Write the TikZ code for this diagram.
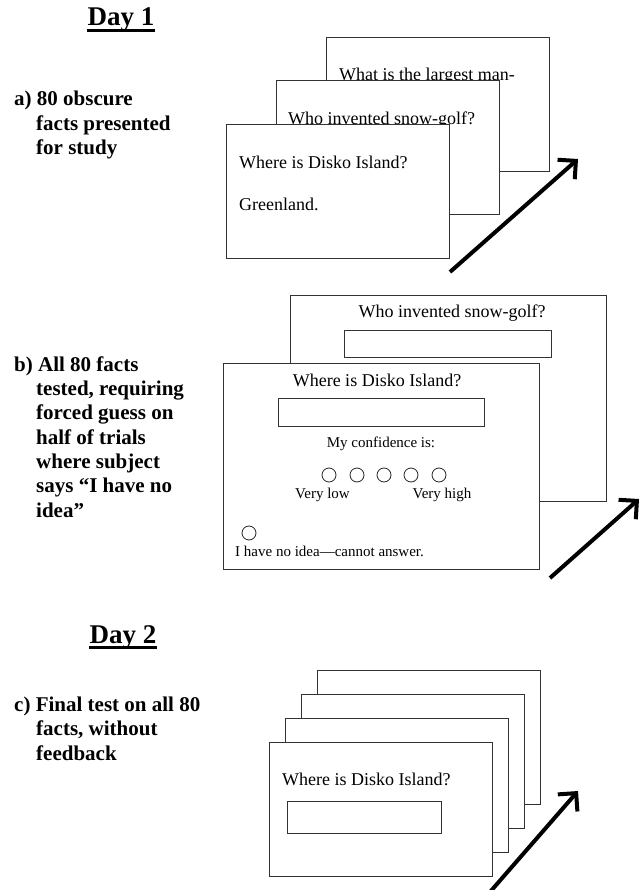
\documentclass[tikz,border=0pt]{standalone}
\usepackage{fontspec}
\setmainfont{Liberation Serif}
\usetikzlibrary{arrows.meta}
\begin{document}
\begin{tikzpicture}[x=1pt,y=-1pt,
  card/.style={draw=black!80, line width=0.9pt, fill=white, minimum width=223pt, minimum height=134pt, anchor=north west, inner sep=0pt, outer sep=0pt},
  bigcard/.style={card, minimum width=316pt, minimum height=206pt},
  lbl/.style={font=\bfseries\fontsize{21}{24}\selectfont, anchor=base west, inner sep=0pt},
  dayhead/.style={font=\bfseries\fontsize{27}{30}\selectfont, anchor=base, inner sep=0pt},
  qtext/.style={font=\fontsize{18}{21}\selectfont, inner sep=0pt},
  smalltext/.style={font=\fontsize{15}{18}\selectfont, inner sep=0pt},
  ansbox/.style={draw=black!80, line width=0.9pt, inner sep=0pt, outer sep=0pt, anchor=north west},
  radio/.style={circle, draw=black!85, line width=0.8pt, minimum size=14pt, inner sep=0pt},
  bigarrow/.style={line width=4pt, -{Straight Barb[length=13pt,width=26pt]}}
]
\useasboundingbox (0,0) rectangle (640,890);

% ---------- Day 1 ----------
\node[dayhead] (d1) at (121,26) {Day 1};
\draw[line width=2.3pt] ([yshift=-4.5pt]d1.base west) -- ([yshift=-4.5pt]d1.base east);

% label a
\node[lbl] (la1) at (14,106) {a) 80 obscure};
\node[lbl] (la2) at (36,130.5) {facts presented};
\node[lbl] (la3) at (36,155) {for study};

% cards a
\node[card] (a3) at (326,37) {};
\node[qtext, anchor=base west] (a3t) at (339,81) {What is the largest man-};
\node[card] (a2) at (276,80) {};
\node[qtext, anchor=base west] (a2t) at (288,124.5) {Who invented snow-golf?};
\node[card] (a1) at (226,124) {};
\node[qtext, anchor=base west] (a1t) at (239,169) {Where is Disko Island?};
\node[qtext, anchor=base west] (a1a) at (239,211) {Greenland.};

\coordinate (arA0) at (450,272);
\coordinate (arA1) at (578,159);
\draw[bigarrow] (arA0) -- (arA1);

% ---------- section b ----------
\node[lbl] (lb1) at (14,371) {b) All 80 facts};
\node[lbl] (lb2) at (36,395) {tested, requiring};
\node[lbl] (lb3) at (36,419.5) {forced guess on};
\node[lbl] (lb4) at (36,444) {half of trials};
\node[lbl] (lb5) at (36,468) {where subject};
\node[lbl] (lb6) at (36,492.5) {says “I have no};
\node[lbl] (lb7) at (36,517) {idea”};

\node[bigcard] (b2) at (290,295) {};
\node[qtext, anchor=base] (b2t) at (452,317) {Who invented snow-golf?};
\node[ansbox, minimum width=207pt, minimum height=27pt] (b2box) at (344,330) {};

\node[bigcard] (b1) at (223,363) {};
\node[qtext, anchor=base] (b1t) at (377,386) {Where is Disko Island?};
\node[ansbox, minimum width=206pt, minimum height=28pt] (b1box) at (278,398) {};
\node[smalltext, anchor=base] (conf) at (381,447) {My confidence is:};
\node[radio] (r1) at (329,475) {};
\node[radio] (r2) at (357,475) {};
\node[radio] (r3) at (384,475) {};
\node[radio] (r4) at (411,475) {};
\node[radio] (r5) at (439,475) {};
\node[smalltext, anchor=base] (vlow) at (322.5,498) {Very low};
\node[smalltext, anchor=base] (vhigh) at (442,498) {Very high};
\node[radio] (r0) at (249,533) {};
\node[smalltext, anchor=base west] (noidea) at (235,556) {I have no idea—cannot answer.};

\coordinate (arB0) at (550,578);
\coordinate (arB1) at (639,499);
\draw[bigarrow] (arB0) -- (arB1);

% ---------- Day 2 ----------
\node[dayhead] (d2) at (123,643) {Day 2};
\draw[line width=2.3pt] ([yshift=-4.5pt]d2.base west) -- ([yshift=-4.5pt]d2.base east);

\node[lbl] (lc1) at (14,711) {c) Final test on all 80};
\node[lbl] (lc2) at (36,735.5) {facts, without};
\node[lbl] (lc3) at (36,760) {feedback};

\node[card] (c4) at (317,670) {};
\node[card] (c3) at (301,694) {};
\node[card] (c2) at (285,718) {};
\node[card] (c1) at (269,742) {};
\node[qtext, anchor=base west] (c1t) at (282,785) {Where is Disko Island?};
\node[ansbox, minimum width=154pt, minimum height=32pt] (c1box) at (287,801) {};

\coordinate (arC0) at (490,892);
\coordinate (arC1) at (578,791);
\draw[bigarrow] (arC0) -- (arC1);
\end{tikzpicture}
\end{document}
